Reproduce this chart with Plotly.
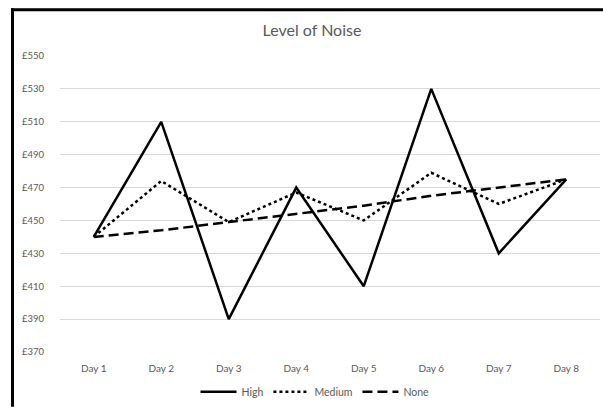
import plotly.graph_objects as go

# Daily readings for each noise level
days = ["Day 1", "Day 2", "Day 3", "Day 4", "Day 5", "Day 6", "Day 7", "Day 8"]
high = [440, 510, 390, 470, 410, 530, 430, 475]
medium = [440, 474, 449, 467, 450, 479, 460, 475]
none_ = [440, 444, 449, 454, 459, 465, 470, 475]

y_ticks = [370, 390, 410, 430, 450, 470, 490, 510, 530, 550]
y_tick_text = ["£" + str(v) for v in y_ticks]

FONT = "Lato, 'Open Sans', sans-serif"
GREY = "#595959"

fig = go.Figure()
fig.add_trace(go.Scatter(x=days, y=high, name="High", mode="lines",
                         line=dict(color="black", width=2.5)))
fig.add_trace(go.Scatter(x=days, y=medium, name="Medium", mode="lines",
                         line=dict(color="black", width=2.5, dash="dot")))
fig.add_trace(go.Scatter(x=days, y=none_, name="None", mode="lines",
                         line=dict(color="black", width=2.5, dash="10px,5px")))

L, R, T, B = 60, 3, 56, 55
W, H = 603, 409
pw, ph = W - L - R, H - T - B


def px_x(p):
    return (p - L) / pw


def px_y(p):
    return (H - B - p) / ph


def bar_shape(x0, x1, y0, y1):
    # solid black strip used for the outer chart frame
    return dict(type="rect", xref="paper", yref="paper",
                x0=px_x(x0), x1=px_x(x1), y0=px_y(y1), y1=px_y(y0),
                fillcolor="black", line=dict(width=0), layer="above")


fig.update_layout(
    width=W, height=H,
    margin=dict(l=L, r=R, t=T, b=B),
    paper_bgcolor="white", plot_bgcolor="white",
    font=dict(family=FONT, color=GREY, size=9),
    title=dict(text="Level of Noise", x=px_x(312), xref="paper",
               xanchor="center", y=1 - 30 / H, yanchor="middle",
               font=dict(size=16, color=GREY, family=FONT)),
    xaxis=dict(type="category", showgrid=False, showline=False, zeroline=False,
               ticks="", ticklabelstandoff=9, tickfont=dict(size=10, color=GREY),
               range=[-0.5, len(days) - 0.5]),
    yaxis=dict(range=[370, 550], tickvals=y_ticks, ticktext=y_tick_text,
               showgrid=True, gridcolor="#d9d9d9", gridwidth=1,
               zeroline=False, showline=False, ticks="",
               ticklabelstandoff=15, tickfont=dict(size=9.5, color=GREY)),
    legend=dict(orientation="h", x=px_x(315), xanchor="center",
                y=px_y(394), yanchor="middle",
                font=dict(size=10.5, color=GREY), itemwidth=36,
                bgcolor="rgba(0,0,0,0)"),
    showlegend=True,
    shapes=[
        bar_shape(11, 14, 8, 409),   # left edge
        bar_shape(11, 603, 8, 11),   # top edge
    ],
)

fig.write_html("out.html")
